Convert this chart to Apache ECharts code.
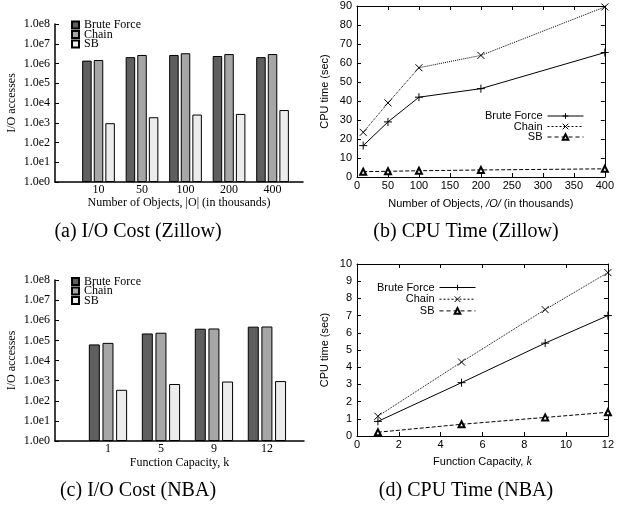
<!DOCTYPE html>
<html>
<head>
<meta charset="utf-8">
<script src="https://cdn.jsdelivr.net/npm/echarts@6/dist/echarts.min.js"></script>
<style>html,body{margin:0;padding:0;background:#fff;}#c{width:617px;height:507px;}</style>
</head>
<body>
<div id="c"></div>
<script>
// ---- data ----
const seriesNames = ['Brute Force', 'Chain', 'SB'];
// (a) I/O cost, Zillow
const zCats = ['10', '50', '100', '200', '400'];
const zIoBF = [1.4e6, 2.1e6, 2.7e6, 2.4e6, 2.1e6];
const zIoChain = [1.5e6, 2.7e6, 3.3e6, 3.0e6, 3.0e6];
const zIoSB = [950, 1900, 2600, 2800, 4400];
// (b) CPU time, Zillow
const zObjects = [10, 50, 100, 200, 400];
const zCpuBF = [16.5, 29, 42, 46.5, 65.5];
const zCpuChain = [23.5, 39, 57.5, 64, 89.5];
const zCpuSB = [2.8, 3.0, 3.3, 3.7, 4.3];
// (c) I/O cost, NBA
const nCats = ['1', '5', '9', '12'];
const nIoBF = [6.3e4, 2.2e5, 3.8e5, 4.8e5];
const nIoChain = [7.5e4, 2.4e5, 3.9e5, 4.9e5];
const nIoSB = [350, 680, 900, 950];
// (d) CPU time, NBA
const kVals = [1, 5, 9, 12];
const nCpuBF = [0.85, 3.1, 5.4, 7.0];
const nCpuChain = [1.15, 4.3, 7.35, 9.5];
const nCpuSB = [0.22, 0.68, 1.08, 1.38];
// tick labels
const logTickLabel = v => '1.0e' + Math.round(Math.log10(v));
const captions = ['(a) I/O Cost (Zillow)', '(b) CPU Time (Zillow)', '(c) I/O Cost (NBA)', '(d) CPU Time (NBA)'];

// ---- style ----
const SERIF = 'Liberation Serif';
const SANS = 'Liberation Sans';
const barColors = ['#5f5f5f', '#a6a6a6', '#ececec'];
const PLUS = 'path://M0,4H8M4,0V8';
const CROSS = 'path://M0,0L8,8M8,0L0,8';
const lineTypes = ['solid', [2, 2], [4, 3]];

const chart = echarts.init(document.getElementById('c'), null, {renderer: 'canvas'});

function barSeries(prefix, cats, arrs, grid, bw, gap) {
  return arrs.map((arr, s) => ({
    name: prefix + seriesNames[s],
    type: 'bar',
    xAxisIndex: grid, yAxisIndex: grid,
    barWidth: bw, barGap: gap,
    data: arr.map((v, i) => [i, v]),
    itemStyle: {color: barColors[s], borderColor: '#000', borderWidth: 1},
    animation: false
  }));
}
function lineSeries(prefix, xs, arrs, xi, yi) {
  const types = ['solid', 'dotted', 'dashed'];
  const syms = [PLUS, CROSS, 'emptyTriangle'];
  const sizes = [8, 7, 6];
  return arrs.map((arr, s) => ({
    name: prefix + seriesNames[s],
    type: 'line',
    xAxisIndex: xi, yAxisIndex: yi,
    data: arr.map((v, i) => [xs[i], v]),
    symbol: syms[s], symbolSize: sizes[s], showSymbol: true,
    lineStyle: {color: '#000', width: 1, type: types[s]},
    itemStyle: {color: '#000', borderColor: '#000', borderWidth: 1},
    animation: false
  }));
}

function catXAxis(grid, cats, maxv, name, margin, gap) {
  return {
    gridIndex: grid, type: 'value', min: -1, max: maxv, interval: 1,
    axisLine: {show: true, onZero: false, lineStyle: {color: '#000', width: 1.5}},
    axisTick: {show: false}, splitLine: {show: false},
    axisLabel: {formatter: v => (Number.isInteger(v) && cats[v] !== undefined) ? cats[v] : '',
      fontFamily: SERIF, fontSize: 12, color: '#000', margin: margin, showMinLabel: true, showMaxLabel: true},
    name: name, nameLocation: 'middle', nameGap: gap,
    nameTextStyle: {fontFamily: SERIF, fontSize: 12, color: '#000'}
  };
}
function logYAxis(grid) {
  return {
    gridIndex: grid, type: 'log', logBase: 10, min: 1, max: 1e8, interval: 1,
    axisLine: {show: true, onZero: false, lineStyle: {color: '#000', width: 1.5}},
    axisTick: {show: true, inside: true, length: 4, lineStyle: {color: '#000'}},
    splitLine: {show: false},
    axisLabel: {formatter: logTickLabel, fontFamily: SERIF, fontSize: 12, color: '#000', margin: 5},
    name: 'I/O accesses', nameLocation: 'middle', nameGap: 37,
    nameTextStyle: {fontFamily: SERIF, fontSize: 12, color: '#000'}
  };
}
function linAxis(grid, pos, min, max, interval, label, name, margin, gap) {
  return {
    gridIndex: grid, type: 'value', position: pos, min: min, max: max, interval: interval,
    axisLine: {show: true, onZero: false, lineStyle: {color: '#000', width: 1}},
    axisTick: {show: true, inside: true, length: 4, lineStyle: {color: '#000'}},
    splitLine: {show: false},
    axisLabel: {show: label, fontFamily: SANS, fontSize: 11, color: '#000', margin: margin},
    name: name || '', nameLocation: 'middle', nameGap: gap || 0,
    nameTextStyle: {fontFamily: SANS, fontSize: 11, color: '#000',
      rich: {i: {fontFamily: SERIF, fontStyle: 'italic', fontSize: 12, color: '#000'},
             o: {fontFamily: SANS, fontStyle: 'italic', fontSize: 11, color: '#000'}}}
  };
}
const stripName = n => n.slice(2);
const barLegend = (p, top) => ({
  data: seriesNames.map(n => p + n), formatter: stripName, orient: 'vertical', left: 66, top: top,
  itemWidth: 7, itemHeight: 7, itemGap: -2.5, icon: 'rect', selectedMode: false,
  textStyle: {fontFamily: SERIF, fontSize: 12, color: '#000', padding: 0}
});
const lineLegend = (p, right, top, gap) => ({
  data: seriesNames.map((n, s) => ({name: p + n,
    lineStyle: {width: 1, color: '#000', type: lineTypes[s]},
    itemStyle: {borderWidth: 1, borderColor: '#000'}})),
  formatter: stripName, orient: 'vertical', right: right, top: top,
  align: 'right', itemWidth: 36, itemHeight: 7, itemGap: gap, selectedMode: false,
  lineStyle: {width: 1},
  itemStyle: {borderWidth: 1},
  textStyle: {fontFamily: SANS, fontSize: 11, color: '#000', padding: 0}
});

const option = {
  backgroundColor: '#fff',
  animation: false,
  grid: [
    {left: 55, top: 24, width: 248, height: 158},
    {left: 357, top: 6, width: 251, height: 171},
    {left: 55, top: 280, width: 249, height: 161},
    {left: 357, top: 264, width: 251, height: 172}
  ],
  xAxis: [
    catXAxis(0, zCats, 4.7, 'Number of Objects, |O| (in thousands)', 2, 14),
    linAxis(1, 'bottom', 0, 400, 50, true, 'Number of Objects, {o|/O/} (in thousands)', 3, 21),
    catXAxis(2, nCats, 3.7, 'Function Capacity, k', 2, 16),
    linAxis(3, 'bottom', 0, 12, 2, true, 'Function Capacity, {i|k}', 3, 20),
    linAxis(1, 'top', 0, 400, 50, false),
    linAxis(3, 'top', 0, 12, 2, false)
  ],
  yAxis: [
    logYAxis(0),
    linAxis(1, 'left', 0, 90, 10, true, 'CPU time (sec)', 5, 27),
    logYAxis(2),
    linAxis(3, 'left', 0, 10, 1, true, 'CPU time (sec)', 5, 27),
    linAxis(1, 'right', 0, 90, 10, false),
    linAxis(3, 'right', 0, 10, 1, false)
  ],
  legend: [
    barLegend('a:', 14),
    barLegend('c:', 270.5),
    lineLegend('b:', 28, 105.5, -0.5),
    lineLegend('d:', 136, 277, 0.7)
  ],
  series: [].concat(
    barSeries('a:', zCats, [zIoBF, zIoChain, zIoSB], 0, 9.5, '22%'),
    lineSeries('b:', zObjects, [zCpuBF, zCpuChain, zCpuSB], 1, 1),
    barSeries('c:', nCats, [nIoBF, nIoChain, nIoSB], 2, 11, '24%'),
    lineSeries('d:', kVals, [nCpuBF, nCpuChain, nCpuSB], 3, 3)
  ),
  graphic: captions.map((t, i) => ({
    type: 'text',
    x: [138, 466, 138, 466][i], y: [232, 232, 491, 491][i],
    style: {text: t, font: '20px "Liberation Serif"', fill: '#000', textAlign: 'center', textVerticalAlign: 'middle'}
  }))
};
chart.setOption(option);
</script>
</body>
</html>
